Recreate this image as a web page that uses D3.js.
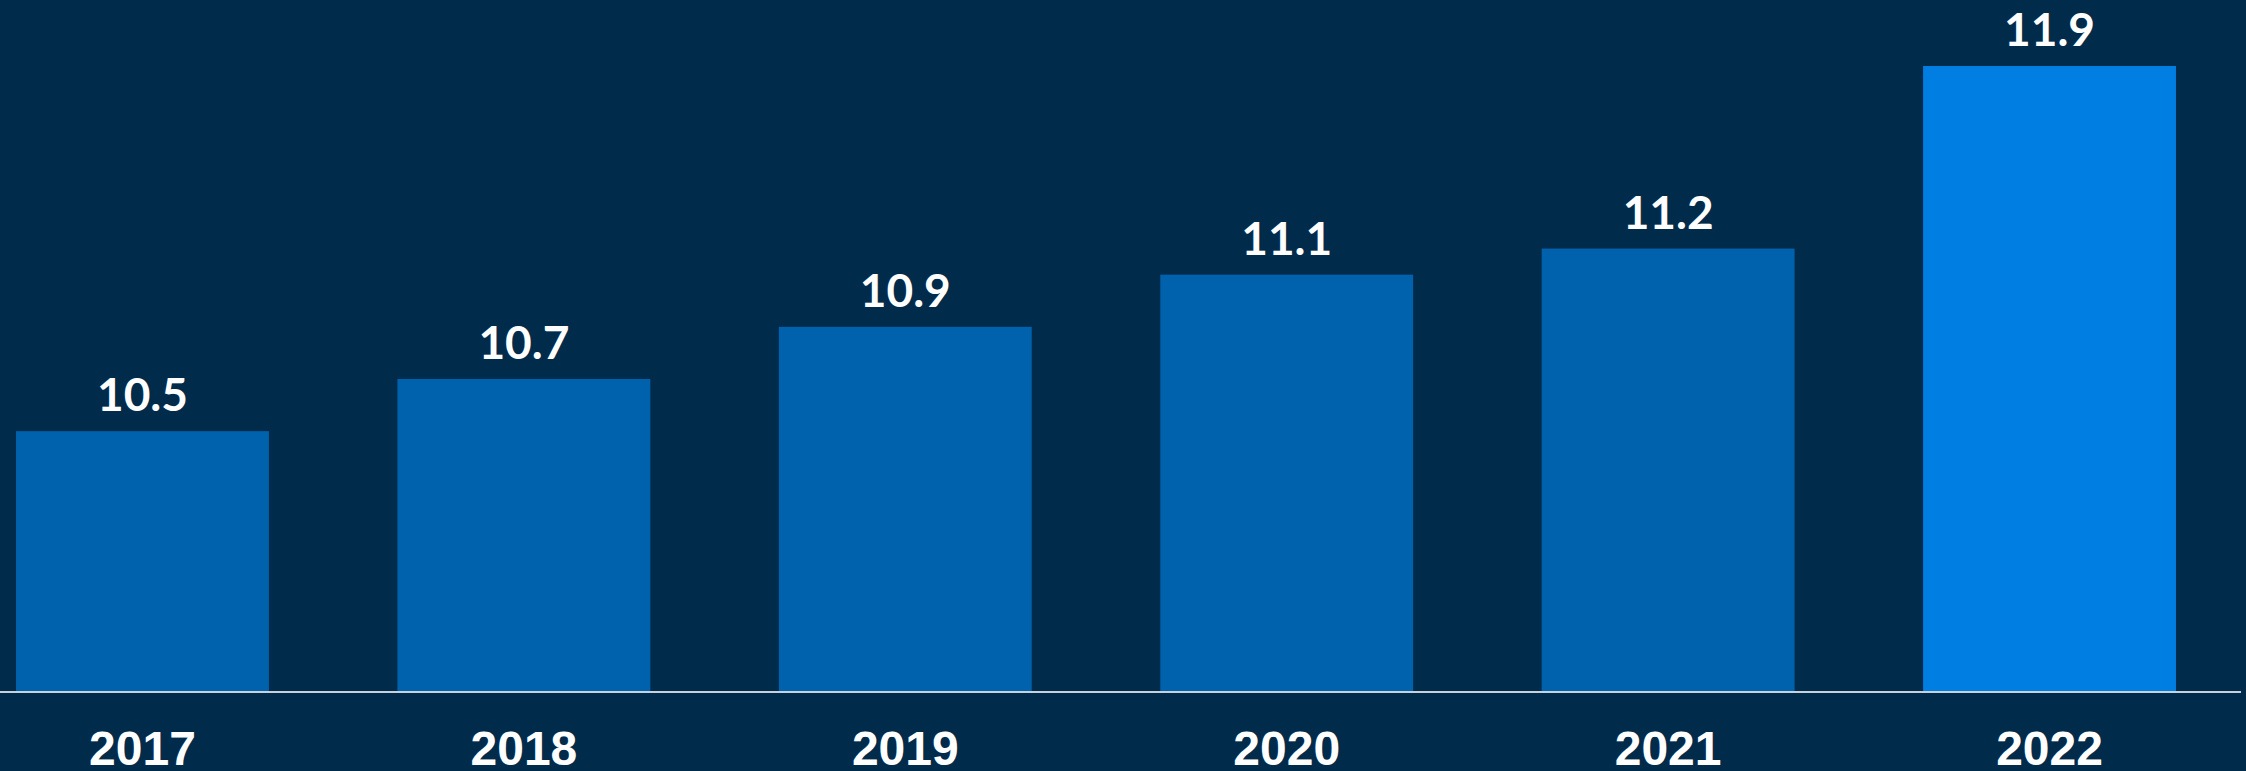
<!DOCTYPE html>
<html>
<head>
<meta charset="utf-8">
<script src="https://cdn.jsdelivr.net/npm/d3@7"></script>
<style>
  html, body { margin: 0; padding: 0; background: #012b4b; }
  svg { display: block; }
</style>
</head>
<body>
<div id="chart"></div>
<script>
const years = ['2017', '2018', '2019', '2020', '2021', '2022'];
const values = [10.5, 10.7, 10.9, 11.1, 11.2, 11.9];
const highlightYear = '2022';

const width = 2246;
const height = 771;
const baseY = 692;

const svg = d3.select('#chart').append('svg')
  .attr('width', width)
  .attr('height', height)
  .style('background', '#012b4b');

const x = d3.scaleBand()
  .domain(years)
  .range([0, 2192])
  .paddingInner(0.337)
  .paddingOuter(0.042);

const y = d3.scaleLinear()
  .domain([9.5, 11.9])
  .range([baseY, 66]);

// bars
svg.append('g')
  .selectAll('rect')
  .data(years)
  .join('rect')
  .attr('x', d => x(d))
  .attr('y', (d, i) => y(values[i]))
  .attr('width', x.bandwidth())
  .attr('height', (d, i) => baseY - y(values[i]))
  .attr('fill', d => d === highlightYear ? '#007ee1' : '#0062ad');

// value labels
svg.append('g')
  .selectAll('text')
  .data(years)
  .join('text')
  .attr('x', d => x(d) + x.bandwidth() / 2)
  .attr('y', (d, i) => y(values[i]) - 20)
  .attr('text-anchor', 'middle')
  .attr('fill', '#ffffff')
  .style('font-family', 'Lato, "Open Sans", sans-serif')
  .style('font-weight', 700)
  .style('font-size', '46px')
  .text((d, i) => values[i].toFixed(1));

// baseline
svg.append('line')
  .attr('x1', 0)
  .attr('x2', 2241)
  .attr('y1', baseY)
  .attr('y2', baseY)
  .attr('stroke', '#c9d2dc')
  .attr('stroke-width', 2);

// year axis
const xAxis = g => g
  .attr('transform', `translate(0, ${baseY})`)
  .call(d3.axisBottom(x).tickSize(0).tickPadding(0))
  .call(g => g.select('.domain').remove())
  .call(g => g.selectAll('text')
    .attr('y', 73)
    .attr('dy', null)
    .attr('fill', '#ffffff')
    .style('font-family', '"Liberation Sans", Arial, sans-serif')
    .style('font-weight', 700)
    .style('font-size', '48px'));

svg.append('g').call(xAxis);
</script>
</body>
</html>
